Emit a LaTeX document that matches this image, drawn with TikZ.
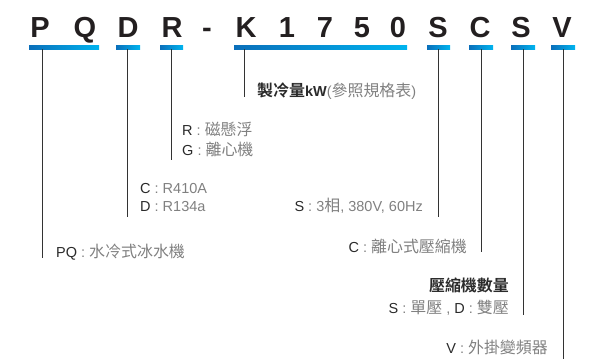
\documentclass[tikz,border=0pt]{standalone}
\usepackage{fontspec}
\setmainfont{Liberation Sans}
\newfontfamily\cjk[Scale=1.1,BoldFont={Noto Sans CJK TC Bold}]{Noto Sans CJK TC}
\definecolor{codeblack}{HTML}{231F20}
\definecolor{labdark}{HTML}{2A2A2A}
\definecolor{labgray}{HTML}{808080}
\definecolor{leadgray}{HTML}{333333}
\definecolor{barL}{HTML}{0A6FBA}
\definecolor{barR}{HTML}{00B4EF}
\newcommand\zh[1]{{\cjk #1}}
\newcommand\gy[1]{\textcolor{labgray}{#1}}
\begin{document}
\begin{tikzpicture}[x=1bp,y=-1bp,
  code/.style={anchor=base,inner sep=0,font=\fontsize{29bp}{29bp}\selectfont\bfseries,text=codeblack},
  bar/.style={inner sep=0,minimum height=4bp,left color=barL,right color=barR,draw=none},
  lead/.style={draw=leadgray,line width=0.9bp},
  lab/.style={inner sep=0,font=\fontsize{14.5bp}{16bp}\selectfont,text=labdark}]
\useasboundingbox (0,0) rectangle (600,359);
% code letters
\node[code] (cP) at (40,37) {P};
\node[code] (cQ) at (85,37) {Q};
\node[code] (cD) at (128,37) {D};
\node[code] (cR) at (172,37) {R};
\node[code] (cH) at (207,37) {-};
\node[code] (cK) at (246,37) {K};
\node[code] (c1) at (287,37) {1};
\node[code] (c7) at (325,37) {7};
\node[code] (c5) at (362,37) {5};
\node[code] (c0) at (398,37) {0};
\node[code] (cS) at (438,37) {S};
\node[code] (cC) at (480,37) {C};
\node[code] (cS2) at (521,37) {S};
\node[code] (cV) at (562,37) {V};
% bars
\node[bar,minimum width=70bp] (bPQ) at (64,47) {};
\node[bar,minimum width=24bp] (bD) at (128,47) {};
\node[bar,minimum width=23bp] (bR) at (171.5,47) {};
\node[bar,minimum width=173bp] (bK) at (320.5,47) {};
\node[bar,minimum width=23bp] (bS) at (438.5,47) {};
\node[bar,minimum width=24bp] (bC) at (481,47) {};
\node[bar,minimum width=24bp] (bS2) at (523,47) {};
\node[bar,minimum width=24bp] (bV) at (563,47) {};
% leader ends
\coordinate (ePQ) at (42,258);
\coordinate (eD) at (127,217);
\coordinate (eR) at (171,160);
\coordinate (eK) at (244,97);
\coordinate (eS) at (438,217);
\coordinate (eC) at (481,252);
\coordinate (eS2) at (523,315);
\coordinate (eV) at (563,359);
\draw[lead] (bPQ.south -| ePQ) -- (ePQ);
\draw[lead] (bD.south -| eD) -- (eD);
\draw[lead] (bR.south -| eR) -- (eR);
\draw[lead] (bK.south -| eK) -- (eK);
\draw[lead] (bS.south -| eS) -- (eS);
\draw[lead] (bC.south -| eC) -- (eC);
\draw[lead] (bS2.south -| eS2) -- (eS2);
\draw[lead] (bV.south -| eV) -- (eV);
% labels
\node[lab,anchor=base west] (lK) at (257,96) {\bfseries\zh{製冷量}kW\gy{\mdseries(\zh{參照規格表})}};
\node[lab,anchor=base west] (lR) at (182,135) {R \gy{: \zh{磁懸浮}}};
\node[lab,anchor=base west] (lG) at (182,155) {G \gy{: \zh{離心機}}};
\node[lab,anchor=base west] (lC) at (140,193) {C \gy{: R410A}};
\node[lab,anchor=base west] (lD) at (140,211) {D \gy{: R134a}};
\node[lab,anchor=base east] (lS) at (423,211) {S \gy{: 3\zh{相}, 380V, 60Hz}};
\node[lab,anchor=base west] (lPQ) at (56,257) {PQ \gy{: \zh{水冷式冰水機}}};
\node[lab,anchor=base east] (lCC) at (467,252) {C \gy{: \zh{離心式壓縮機}}};
\node[lab,anchor=base east] (lN) at (509,291) {\bfseries\zh{壓縮機數量}};
\node[lab,anchor=base east] (lSD) at (509,313) {S \gy{: \zh{單壓} , }D \gy{: \zh{雙壓}}};
\node[lab,anchor=base east] (lV) at (548,353) {V \gy{: \zh{外掛變頻器}}};
\end{tikzpicture}
\end{document}
